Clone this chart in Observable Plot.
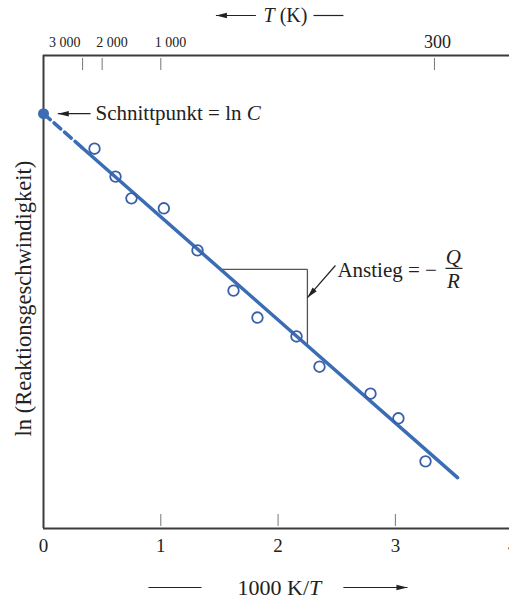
<!DOCTYPE html>
<html>
<head>
<meta charset="utf-8">
<script src="https://cdn.jsdelivr.net/npm/d3@7"></script>
<script src="https://cdn.jsdelivr.net/npm/@observablehq/plot@0.6"></script>
<style>
  html, body { margin: 0; padding: 0; background: #fff; overflow: hidden; }
  svg { overflow: visible; display: block; }
</style>
</head>
<body>
<div id="chart"></div>
<script>
// Measured rates: x = 1000 K / T, y = ln(rate) in arbitrary units
const invT   = [0.435, 0.614, 0.750, 1.026, 1.313, 1.620, 1.824, 2.157, 2.353, 2.788, 3.026, 3.257];
const lnRate = [8.03, 7.44, 6.98, 6.77, 5.88, 5.03, 4.46, 4.06, 3.42, 2.85, 2.33, 1.42];

// Arrhenius fit: ln(rate) = ln C − (Q/R) · (1/T)
const lnC = 8.77;
const slope = -2.18;
const fitStart = 0;      // extrapolated (dashed) back to the intercept
const dashEnd = 0.33;    // where the measured range begins
const fitEnd = 3.53;

// Slope triangle spans these x values
const triangleX = [1.51, 2.25];

// Axes
const bottomTicks = [0, 1, 2, 3, 4];
const topTempsK = [3000, 2000, 1000, 300];
const topTickLabels = ["3 000", "2 000", "1 000", "300"];

const blue = "#3a6db4";
const ink = "#222";
const axisInk = "#3c3c3c";
const serif = "Liberation Serif, Times New Roman, serif";

const fit = x => lnC + slope * x;
const points = invT.map((x, i) => ({x, y: lnRate[i]}));
const dashed = [fitStart, dashEnd].map(x => ({x, y: fit(x)}));
const solid = [dashEnd, fitEnd].map(x => ({x, y: fit(x)}));
const topTicks = topTempsK.map((t, i) => ({x: 1000 / t, label: topTickLabels[i]}));

const W = 509, H = 595;
const mL = 43, mR = 0, mT = 55, mB = 67;
const xMax = 3.973;
const yMin = 0, yMax = 10;
// one pixel expressed in data units, for small offsets outside the frame
const py = (yMax - yMin) / (H - mT - mB);
const px = xMax / (W - mL - mR);

const [tx1, tx2] = triangleX;
const triY = fit(tx1);

// Narrow filled arrowhead, tip at the origin, pointing up
const wedge = {
  draw(ctx) {
    ctx.moveTo(0, 0);
    ctx.lineTo(2.7, 11);
    ctx.lineTo(-2.7, 11);
    ctx.closePath();
  }
};

// Arrow = shaft + filled head rotated along the shaft
function arrows(list) {
  const data = list.map(a => ({
    ...a,
    angle: Math.atan2((a.x2 - a.x1) / px, (a.y2 - a.y1) / py) * 180 / Math.PI
  }));
  return [
    Plot.link(data, {x1: "x1", y1: "y1", x2: "x2", y2: "y2", stroke: ink, strokeWidth: 1.2}),
    Plot.dot(data, {x: "x2", y: "y2", symbol: wedge, rotate: "angle", fill: ink, stroke: "none", r: 4})
  ];
}

const titleTopY = yMax + 40 * py;
const titleBottomY = yMin - 59 * py;

const chart = Plot.plot({
  width: W,
  height: H,
  marginLeft: mL,
  marginRight: mR,
  marginTop: mT,
  marginBottom: mB,
  style: {fontFamily: serif, fontSize: "19px", background: "white", color: ink, overflow: "visible"},
  x: {domain: [0, xMax]},
  y: {domain: [yMin, yMax], axis: null},
  marks: [
    // frame: left, bottom, top
    Plot.ruleX([0], {y1: yMin, y2: yMax, stroke: axisInk, strokeWidth: 2}),
    Plot.ruleY([yMin], {x1: 0, x2: xMax, stroke: axisInk, strokeWidth: 2}),
    Plot.ruleY([yMax], {x1: 0, x2: xMax, stroke: axisInk, strokeWidth: 2}),

    // bottom axis labels and inward ticks
    Plot.axisX({anchor: "bottom", ticks: bottomTicks, tickSize: 0, tickPadding: 10, label: null, fontSize: 19, tickFormat: d => String(d)}),
    Plot.ruleX(bottomTicks.filter(d => d > 0), {y1: yMin + 2 * py, y2: yMin + 14 * py, stroke: "#777", strokeWidth: 1}),

    // top axis: temperature in K
    Plot.ruleX(topTicks, {x: "x", y1: yMax - 3 * py, y2: yMax - 15 * py, stroke: "#777", strokeWidth: 1}),
    Plot.text(topTicks.slice(0, 1), {x: "x", y: yMax + 13 * py, text: "label", textAnchor: "end", dx: -2, fontSize: 14}),
    Plot.text(topTicks.slice(1, 3), {x: "x", y: yMax + 13 * py, text: "label", textAnchor: "start", dx: -6, fontSize: 14}),
    Plot.text(topTicks.slice(3), {x: "x", y: yMax + 13 * py, text: "label", fontSize: 18, dx: 3}),

    // top title  ←— T (K) ——
    Plot.text([{x: 2.063, y: titleTopY}], {x: "x", y: "y", text: () => "*T* (K)", fontSize: 20}),
    ...arrows([{x1: 1.811, x2: 1.47, y1: titleTopY, y2: titleTopY}]),
    Plot.link([{x1: 2.302, x2: 2.557, y: titleTopY}], {x1: "x1", x2: "x2", y1: "y", y2: "y", stroke: ink, strokeWidth: 1.2}),

    // bottom title  —— 1000 K/T ——→
    Plot.text([{x: 2.012, y: titleBottomY}], {x: "x", y: "y", text: () => "1000 K/*T*", fontSize: 22}),
    Plot.link([{x1: 0.895, x2: 1.347, y: titleBottomY}], {x1: "x1", x2: "x2", y1: "y", y2: "y", stroke: ink, strokeWidth: 1.2}),
    ...arrows([{x1: 2.557, x2: 3.103, y1: titleBottomY, y2: titleBottomY}]),

    // y title
    Plot.text([{x: -20 * px, y: 4.86}], {x: "x", y: "y", text: () => "ln (Reaktionsgeschwindigkeit)", rotate: -90, fontSize: 22.5}),

    // slope triangle
    Plot.link([{x1: tx1, x2: tx2, y: triY}], {x1: "x1", x2: "x2", y1: "y", y2: "y", stroke: "#555", strokeWidth: 1.3}),
    Plot.link([{x: tx2, y1: triY, y2: fit(tx2)}], {x1: "x", x2: "x", y1: "y1", y2: "y2", stroke: "#555", strokeWidth: 1.3}),

    // fitted line: dashed extrapolation, then solid
    Plot.line(dashed, {x: "x", y: "y", stroke: blue, strokeWidth: 3.5, strokeDasharray: "9,5"}),
    Plot.line(solid, {x: "x", y: "y", stroke: blue, strokeWidth: 3.5}),

    // measurements
    Plot.dot(points, {x: "x", y: "y", r: 5.3, stroke: "#3a5fa9", strokeWidth: 1.8, fill: "none"}),

    // intercept
    Plot.dot([{x: 0, y: lnC}], {x: "x", y: "y", r: 5.5, fill: blue, stroke: "none"}),
    ...arrows([{x1: 0.401, x2: 0.122, y1: lnC, y2: lnC}]),
    Plot.text([{x: 0.443, y: lnC}], {x: "x", y: "y", text: () => "Schnittpunkt = ln *C*", textAnchor: "start", fontSize: 21}),

    // slope annotation
    ...arrows([{x1: 2.489, y1: 5.56, x2: 2.25, y2: 4.88}]),
    Plot.text([{x: 2.506, y: 5.455}], {x: "x", y: "y", text: () => "Anstieg = −", textAnchor: "start", fontSize: 21}),
    Plot.text([{x: 3.495, y: 5.73}], {x: "x", y: "y", text: () => "*Q*", fontSize: 21}),
    Plot.text([{x: 3.495, y: 5.22}], {x: "x", y: "y", text: () => "*R*", fontSize: 21}),
    Plot.link([{x1: 3.427, x2: 3.572, y: 5.50}], {x1: "x1", x2: "x2", y1: "y", y2: "y", stroke: ink, strokeWidth: 1.2})
  ]
});

// Render *…* segments of a label in italics
function applyItalics(svg) {
  svg.querySelectorAll("text").forEach(t => {
    const s = t.textContent;
    if (!s.includes("*")) return;
    while (t.firstChild) t.removeChild(t.firstChild);
    s.split("*").forEach((part, i) => {
      if (!part) return;
      const ts = document.createElementNS("http://www.w3.org/2000/svg", "tspan");
      ts.textContent = part;
      if (i % 2) ts.setAttribute("font-style", "italic");
      t.appendChild(ts);
    });
  });
}
applyItalics(chart);

document.getElementById("chart").appendChild(chart);
</script>
</body>
</html>
